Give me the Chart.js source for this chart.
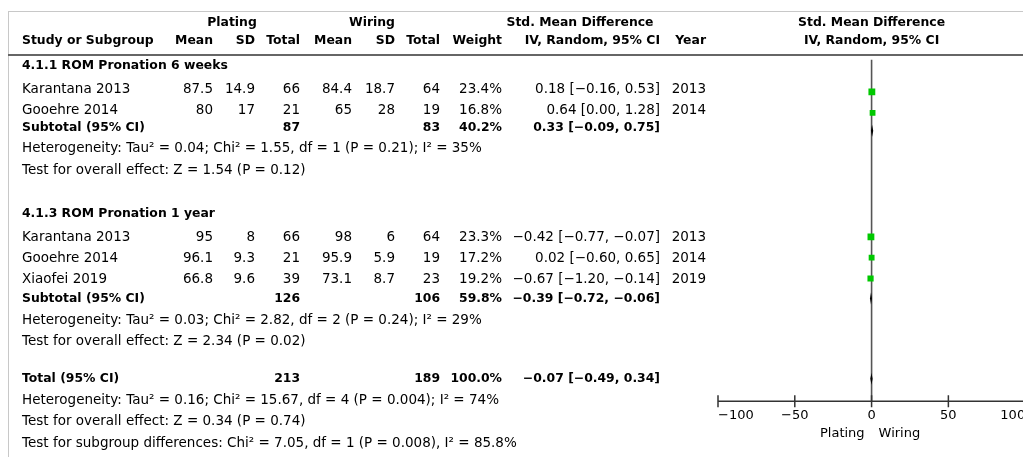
<!DOCTYPE html>
<html>
<head>
<meta charset="utf-8">
<script src="https://cdn.jsdelivr.net/npm/chart.js@4/dist/chart.umd.min.js"></script>
<style>
  html, body { margin: 0; padding: 0; background: #fff; overflow: hidden; }
  canvas { display: block; }
</style>
</head>
<body>
<canvas id="forest" width="1030" height="457"></canvas>
<script>
// Studies (both subgroups, in table order)
const studies = ['Karantana 2013', 'Gooehre 2014', 'Karantana 2013', 'Gooehre 2014', 'Xiaofei 2019'];
const subgroup = [0, 0, 1, 1, 1];
const platingMean = [87.5, 80, 95, 96.1, 66.8];
const platingSD = [14.9, 17, 8, 9.3, 9.6];
const platingN = [66, 21, 66, 21, 39];
const wiringMean = [84.4, 65, 98, 95.9, 73.1];
const wiringSD = [18.7, 28, 6, 5.9, 8.7];
const wiringN = [64, 19, 64, 19, 23];
const weights = [23.4, 16.8, 23.3, 17.2, 19.2];
const smd = [0.18, 0.64, -0.42, 0.02, -0.67];
const ciLow = [-0.16, 0.00, -0.77, -0.60, -1.20];
const ciHigh = [0.53, 1.28, -0.07, 0.65, -0.14];
const years = [2013, 2014, 2013, 2014, 2019];

// Subgroup summaries
const subgroupNames = ['4.1.1 ROM Pronation 6 weeks', '4.1.3 ROM Pronation 1 year'];
const subPlatingN = [87, 126];
const subWiringN = [83, 106];
const subWeight = [40.2, 59.8];
const subSmd = [0.33, -0.39];
const subLow = [-0.09, -0.72];
const subHigh = [0.75, -0.06];
const subHet = [
  'Heterogeneity: Tau\u00b2 = 0.04; Chi\u00b2 = 1.55, df = 1 (P = 0.21); I\u00b2 = 35%',
  'Heterogeneity: Tau\u00b2 = 0.03; Chi\u00b2 = 2.82, df = 2 (P = 0.24); I\u00b2 = 29%'
];
const subTest = [
  'Test for overall effect: Z = 1.54 (P = 0.12)',
  'Test for overall effect: Z = 2.34 (P = 0.02)'
];

// Overall
const totalPlatingN = 213;
const totalWiringN = 189;
const totalWeight = 100.0;
const totalSmd = -0.07;
const totalLow = -0.49;
const totalHigh = 0.34;
const totalNotes = [
  'Heterogeneity: Tau\u00b2 = 0.16; Chi\u00b2 = 15.67, df = 4 (P = 0.004); I\u00b2 = 74%',
  'Test for overall effect: Z = 0.34 (P = 0.74)',
  'Test for subgroup differences: Chi\u00b2 = 7.05, df = 1 (P = 0.008), I\u00b2 = 85.8%'
];

const xTicks = [-100, -50, 0, 50, 100];
const favoursLeft = 'Plating';
const favoursRight = 'Wiring';

// ---- layout ----
const FONT = '"DejaVu Sans", "Noto Sans", sans-serif';
const REG = '13.5px ' + FONT;
const AXISFONT = '13px ' + FONT;
const BOLD = 'bold 12.4px ' + FONT;
const GREEN = '#00c800';

// right edges of the numeric columns
const col = {
  study: 22, pMean: 213, pSD: 255, pN: 300, wMean: 352, wSD: 395, wN: 440,
  weight: 502, ci: 660, year: 706
};
const AXIS_Y = 405;

// row centres, walked down the table
const rows = (() => {
  const r = { heading: [], study: [], subtotal: [], het: [], test: [], notes: [] };
  let cur = 66;
  subgroupNames.forEach((name, g) => {
    r.heading[g] = cur;
    cur += 23;
    studies.forEach((s, i) => {
      if (subgroup[i] === g) { r.study[i] = cur; cur += 21.3; }
    });
    cur -= g === 0 ? 4 : 1.8;
    r.subtotal[g] = cur; cur += 21;
    r.het[g] = cur; cur += 21.4;
    r.test[g] = cur;
    cur += g === 0 ? 44 : 41.5;
  });
  r.total = r.test[r.test.length - 1] + 37.6;
  cur = r.total;
  totalNotes.forEach((t, i) => { cur += 21.4; r.notes[i] = cur; });
  return r;
})();

function fmt(v) {
  return (v < 0 ? '\u2212' : '') + Math.abs(v).toFixed(2);
}
function ciText(e, lo, hi) {
  return fmt(e) + ' [' + fmt(lo) + ', ' + fmt(hi) + ']';
}

function txt(ctx, s, x, y, align, font) {
  ctx.font = font || REG;
  ctx.textAlign = align || 'left';
  ctx.fillText(s, x, y);
}

// left-hand table, header rules and frame
const tablePlugin = {
  id: 'forestTable',
  beforeDraw(chart) {
    const ctx = chart.ctx;
    ctx.save();
    ctx.fillStyle = '#fff';
    ctx.fillRect(0, 0, chart.width, chart.height);

    // frame
    ctx.strokeStyle = '#c8c8c8';
    ctx.lineWidth = 1;
    ctx.beginPath();
    ctx.moveTo(8, 11.5); ctx.lineTo(chart.width, 11.5);
    ctx.moveTo(8.5, 11); ctx.lineTo(8.5, chart.height);
    ctx.stroke();
    ctx.strokeStyle = '#666';
    ctx.lineWidth = 2;
    ctx.beginPath();
    ctx.moveTo(8, 55); ctx.lineTo(chart.width, 55);
    ctx.stroke();

    ctx.fillStyle = '#000';
    ctx.textBaseline = 'middle';

    // headers
    const x0 = chart.scales.x.getPixelForValue(0);
    txt(ctx, 'Plating', 232, 23, 'center', BOLD);
    txt(ctx, 'Wiring', 372, 23, 'center', BOLD);
    txt(ctx, 'Std. Mean Difference', 580, 23, 'center', BOLD);
    txt(ctx, 'Std. Mean Difference', x0, 23, 'center', BOLD);
    txt(ctx, 'Study or Subgroup', col.study, 41, 'left', BOLD);
    txt(ctx, 'Mean', col.pMean, 41, 'right', BOLD);
    txt(ctx, 'SD', col.pSD, 41, 'right', BOLD);
    txt(ctx, 'Total', col.pN, 41, 'right', BOLD);
    txt(ctx, 'Mean', col.wMean, 41, 'right', BOLD);
    txt(ctx, 'SD', col.wSD, 41, 'right', BOLD);
    txt(ctx, 'Total', col.wN, 41, 'right', BOLD);
    txt(ctx, 'Weight', col.weight, 41, 'right', BOLD);
    txt(ctx, 'IV, Random, 95% CI', col.ci, 41, 'right', BOLD);
    txt(ctx, 'Year', col.year, 41, 'right', BOLD);
    txt(ctx, 'IV, Random, 95% CI', x0, 41, 'center', BOLD);

    // subgroups
    subgroupNames.forEach((name, g) => {
      txt(ctx, name, col.study, rows.heading[g], 'left', BOLD);
      studies.forEach((s, i) => {
        if (subgroup[i] !== g) return;
        const y = rows.study[i];
        txt(ctx, s, col.study, y);
        txt(ctx, String(platingMean[i]), col.pMean, y, 'right');
        txt(ctx, String(platingSD[i]), col.pSD, y, 'right');
        txt(ctx, String(platingN[i]), col.pN, y, 'right');
        txt(ctx, String(wiringMean[i]), col.wMean, y, 'right');
        txt(ctx, String(wiringSD[i]), col.wSD, y, 'right');
        txt(ctx, String(wiringN[i]), col.wN, y, 'right');
        txt(ctx, weights[i].toFixed(1) + '%', col.weight, y, 'right');
        txt(ctx, ciText(smd[i], ciLow[i], ciHigh[i]), col.ci, y, 'right');
        txt(ctx, String(years[i]), col.year, y, 'right');
      });
      const ys = rows.subtotal[g];
      txt(ctx, 'Subtotal (95% CI)', col.study, ys, 'left', BOLD);
      txt(ctx, String(subPlatingN[g]), col.pN, ys, 'right', BOLD);
      txt(ctx, String(subWiringN[g]), col.wN, ys, 'right', BOLD);
      txt(ctx, subWeight[g].toFixed(1) + '%', col.weight, ys, 'right', BOLD);
      txt(ctx, ciText(subSmd[g], subLow[g], subHigh[g]), col.ci, ys, 'right', BOLD);
      txt(ctx, subHet[g], col.study, rows.het[g]);
      txt(ctx, subTest[g], col.study, rows.test[g]);
    });

    // overall
    const yt = rows.total;
    txt(ctx, 'Total (95% CI)', col.study, yt, 'left', BOLD);
    txt(ctx, String(totalPlatingN), col.pN, yt, 'right', BOLD);
    txt(ctx, String(totalWiringN), col.wN, yt, 'right', BOLD);
    txt(ctx, totalWeight.toFixed(1) + '%', col.weight, yt, 'right', BOLD);
    txt(ctx, ciText(totalSmd, totalLow, totalHigh), col.ci, yt, 'right', BOLD);
    totalNotes.forEach((t, i) => txt(ctx, t, col.study, rows.notes[i]));
    ctx.restore();
  }
};

// zero line, CI whiskers, diamonds and the bottom axis
const forestPlugin = {
  id: 'forestMarks',
  beforeDatasetsDraw(chart) {
    const ctx = chart.ctx;
    const xs = chart.scales.x, ys = chart.scales.y;
    const x0 = xs.getPixelForValue(0);
    ctx.save();
    ctx.strokeStyle = '#555';
    ctx.lineWidth = 1.6;
    ctx.beginPath();
    ctx.moveTo(x0, ys.getPixelForValue(56));
    ctx.lineTo(x0, ys.getPixelForValue(AXIS_Y));
    ctx.stroke();

    ctx.strokeStyle = '#000';
    ctx.lineWidth = 1;
    smd.forEach((v, i) => {
      const y = ys.getPixelForValue(rows.study[i]);
      ctx.beginPath();
      ctx.moveTo(xs.getPixelForValue(ciLow[i]), y);
      ctx.lineTo(xs.getPixelForValue(ciHigh[i]), y);
      ctx.stroke();
    });
    ctx.restore();
  },
  afterDatasetsDraw(chart) {
    const ctx = chart.ctx;
    const xs = chart.scales.x, ys = chart.scales.y;
    ctx.save();
    const diamond = (e, lo, hi, row) => {
      const y = ys.getPixelForValue(row);
      const l = xs.getPixelForValue(lo), r = xs.getPixelForValue(hi), c = xs.getPixelForValue(e);
      ctx.beginPath();
      ctx.moveTo(l - 0.5, y);
      ctx.lineTo(c, y - 6);
      ctx.lineTo(r + 0.5, y);
      ctx.lineTo(c, y + 6);
      ctx.closePath();
      ctx.fillStyle = '#000';
      ctx.fill();
    };
    subSmd.forEach((e, g) => diamond(e, subLow[g], subHigh[g], rows.subtotal[g] + 1));
    diamond(totalSmd, totalLow, totalHigh, rows.total + 3);

    // axis
    const ay = ys.getPixelForValue(AXIS_Y);
    ctx.strokeStyle = '#333';
    ctx.lineWidth = 1.5;
    ctx.beginPath();
    ctx.moveTo(xs.getPixelForValue(xTicks[0]), ay);
    ctx.lineTo(xs.getPixelForValue(xTicks[xTicks.length - 1]), ay);
    xTicks.forEach(t => {
      const x = xs.getPixelForValue(t);
      ctx.moveTo(x, ay - 6);
      ctx.lineTo(x, ay + 6);
    });
    ctx.stroke();

    ctx.fillStyle = '#000';
    ctx.textBaseline = 'middle';
    xTicks.forEach((t, i) => {
      const x = xs.getPixelForValue(t);
      const align = i === 0 ? 'left' : (i === xTicks.length - 1 ? 'right' : 'center');
      txt(ctx, fmt(t).replace('.00', ''), x, ay + 14, align, AXISFONT);
    });
    const x0 = xs.getPixelForValue(0);
    txt(ctx, favoursLeft, x0 - 7, ay + 32, 'right', AXISFONT);
    txt(ctx, favoursRight, x0 + 7, ay + 32, 'left', AXISFONT);
    ctx.restore();
  }
};

new Chart(document.getElementById('forest'), {
  type: 'scatter',
  data: {
    datasets: [{
      label: 'Std. Mean Difference',
      data: smd.map((v, i) => ({ x: v, y: rows.study[i] })),
      pointStyle: 'rect',
      pointRadius: weights.map(w => Math.sqrt(w)),
      pointBackgroundColor: GREEN,
      pointBorderWidth: 0,
      pointBorderColor: GREEN
    }]
  },
  options: {
    responsive: false,
    animation: false,
    events: [],
    layout: { padding: { left: 718, right: 2.4, top: 0, bottom: 0 } },
    scales: {
      x: { type: 'linear', min: -100, max: 100, display: false },
      y: { type: 'linear', min: 0, max: 457, reverse: true, display: false }
    },
    plugins: {
      legend: { display: false },
      tooltip: { enabled: false }
    }
  },
  plugins: [tablePlugin, forestPlugin]
});
</script>
</body>
</html>
